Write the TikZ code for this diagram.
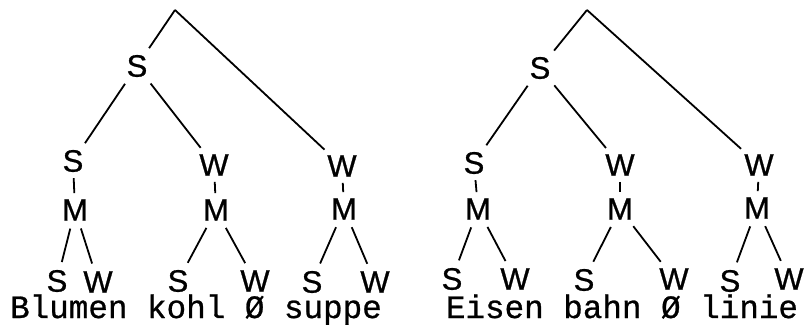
\documentclass[tikz,border=0pt]{standalone}
\usepackage{fontspec}
\setmainfont{Liberation Sans}
\newfontfamily\labfont[FakeBold=0.8]{Liberation Sans}
\newfontfamily\wordfont[FakeBold=0.8]{Liberation Mono}
\begin{document}
\begin{tikzpicture}[x=1pt,y=-1pt,
  lab/.style={font=\labfont\fontsize{31}{31}\selectfont, inner sep=0pt},
  word/.style={font=\wordfont\fontsize{32.6}{33}\selectfont, inner sep=0pt, anchor=base},
  edge/.style={line width=1.8pt, shorten <=8pt, shorten >=8pt},
  tick/.style={line width=1.8pt, shorten <=6pt, shorten >=6pt}]
\useasboundingbox (0,0) rectangle (804,327);
% left tree
\coordinate (LA) at (175,10);
\node[lab] (LS) at (137,66) {S};
\node[lab] (LS1) at (73,161) {S};
\node[lab] (LW1) at (214,165) {W};
\node[lab] (LW2) at (342,166) {W};
\node[lab] (LM1) at (75,210) {M};
\node[lab] (LM2) at (216,210) {M};
\node[lab] (LM3) at (344,209) {M};
\node[lab] (LS11) at (57,281) {S};
\node[lab] (LW11) at (98,282) {W};
\node[lab] (LS21) at (178,281) {S};
\node[lab] (LW21) at (255,281) {W};
\node[lab] (LS31) at (312,282) {S};
\node[lab] (LW31) at (375,282) {W};
\node[word] (LT) at (196,318) {Blumen kohl Ø suppe};
\draw[edge, shorten <=0pt] (LA) -- (LS);
\draw[edge, shorten <=0pt] (LA) -- (LW2);
\draw[edge] (LS) -- (LS1);
\draw[edge] (LS) -- (LW1);
\draw[tick] (LS1) -- (LM1);
\draw[tick] (LW1) -- (LM2);
\draw[tick] (LW2) -- (LM3);
\draw[edge] (LM1) -- (LS11);
\draw[edge] (LM1) -- (LW11);
\draw[edge] (LM2) -- (LS21);
\draw[edge] (LM2) -- (LW21);
\draw[edge] (LM3) -- (LS31);
\draw[edge] (LM3) -- (LW31);
% right tree
\coordinate (RA) at (587,10);
\node[lab] (RS) at (540,68) {S};
\node[lab] (RS1) at (474,163) {S};
\node[lab] (RW1) at (620,165) {W};
\node[lab] (RW2) at (759,165) {W};
\node[lab] (RM1) at (478,209) {M};
\node[lab] (RM2) at (620,209) {M};
\node[lab] (RM3) at (757,208) {M};
\node[lab] (RS11) at (452,279) {S};
\node[lab] (RW11) at (515,279) {W};
\node[lab] (RS21) at (584,280) {S};
\node[lab] (RW21) at (674,279) {W};
\node[lab] (RS31) at (730,281) {S};
\node[lab] (RW31) at (789,279) {W};
\node[word] (RT) at (622,318) {Eisen bahn Ø linie};
\draw[edge, shorten <=0pt] (RA) -- (RS);
\draw[edge, shorten <=0pt] (RA) -- (RW2);
\draw[edge] (RS) -- (RS1);
\draw[edge] (RS) -- (RW1);
\draw[tick] (RS1) -- (RM1);
\draw[tick] (RW1) -- (RM2);
\draw[tick] (RW2) -- (RM3);
\draw[edge] (RM1) -- (RS11);
\draw[edge] (RM1) -- (RW11);
\draw[edge] (RM2) -- (RS21);
\draw[edge] (RM2) -- (RW21);
\draw[edge] (RM3) -- (RS31);
\draw[edge] (RM3) -- (RW31);
\end{tikzpicture}
\end{document}
